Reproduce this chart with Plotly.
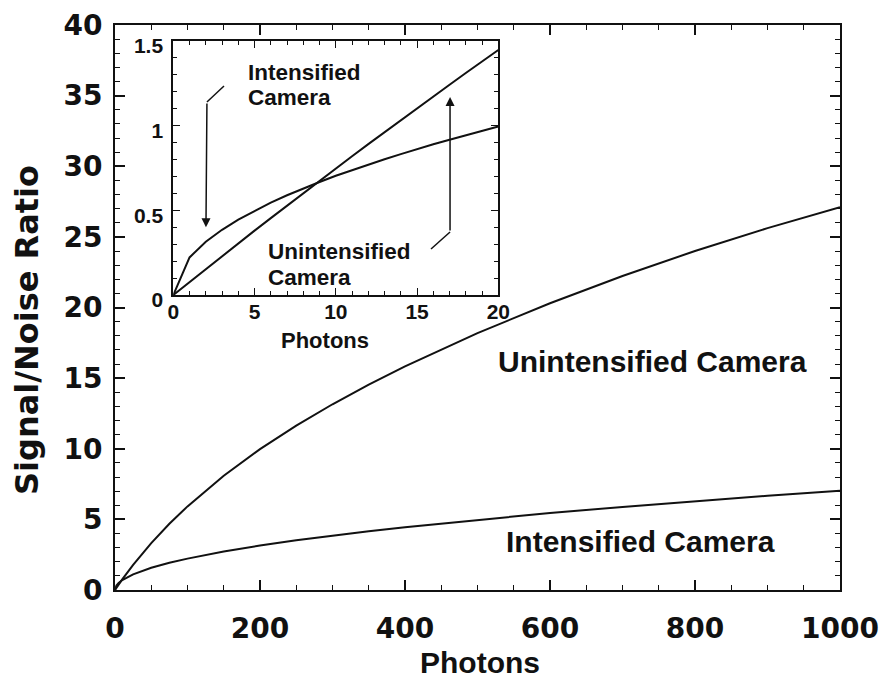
import plotly.graph_objects as go

# ---- data ----
main_photons = [0, 2, 5, 10, 25, 50, 75, 100, 150, 200, 250, 300, 350, 400, 500, 600, 700, 800, 900, 1000]
main_unintensified = [0, 0.154, 0.380, 0.747, 1.78, 3.32, 4.69, 5.92, 8.09, 9.97, 11.64, 13.15, 14.54, 15.83,
                      18.19, 20.30, 22.23, 24.00, 25.62, 27.10]
main_intensified = [0, 0.315, 0.497, 0.704, 1.11, 1.57, 1.93, 2.22, 2.72, 3.15, 3.52, 3.85, 4.16, 4.45,
                    4.97, 5.45, 5.88, 6.29, 6.67, 7.03]

inset_photons = list(range(0, 21))
inset_unintensified = [0, 0.077, 0.154, 0.229, 0.305, 0.380, 0.454, 0.528, 0.602, 0.675, 0.747,
                       0.819, 0.891, 0.962, 1.032, 1.103, 1.172, 1.242, 1.311, 1.379, 1.447]
inset_intensified = [0, 0.222, 0.315, 0.385, 0.445, 0.497, 0.545, 0.589, 0.629, 0.667, 0.704,
                     0.738, 0.771, 0.802, 0.832, 0.862, 0.890, 0.917, 0.944, 0.970, 0.995]

main_xticks = [0, 200, 400, 600, 800, 1000]
main_yticks = [0, 5, 10, 15, 20, 25, 30, 35, 40]
inset_xticks = [0, 5, 10, 15, 20]
inset_yticks = [0, 0.5, 1, 1.5]
inset_yticklabels = ["0", "0.5", "1", "1.5"]

# arrow paths in inset data coordinates (start, bend, tip)
arrow_intensified = [(3.12, 1.234), (2.07, 1.14), (2.01, 0.40)]
arrow_unintensified = [(15.86, 0.272), (17.03, 0.372), (17.03, 1.17)]

# ---- layout geometry (pixels) ----
W, H = 880, 681
L, R, T, B = 115, 840, 25, 590


def px(xp, yp):
    return (xp - L) / (R - L), (B - yp) / (B - T)


INK = "#111111"
TXT = dict(family="Liberation Sans, Arial, sans-serif", color=INK, weight=700)

fig = go.Figure()
for ys in (main_unintensified, main_intensified):
    fig.add_trace(go.Scatter(x=main_photons, y=ys, mode="lines",
                             line=dict(color=INK, width=2), showlegend=False,
                             xaxis="x", yaxis="y"))
for ys in (inset_unintensified, inset_intensified):
    fig.add_trace(go.Scatter(x=inset_photons, y=ys, mode="lines",
                             line=dict(color=INK, width=2), showlegend=False,
                             xaxis="x2", yaxis="y2"))

ix0, iy0 = px(173.3, 295)
ix1, iy1 = px(498.3, 41)

axis_common = dict(showgrid=False, zeroline=False, showline=True, linecolor=INK,
                   linewidth=2, mirror="ticks", ticks="inside", tickcolor=INK,
                   automargin=False)

fig.update_layout(
    width=W, height=H,
    margin=dict(l=L, r=W - R, t=T, b=H - B, autoexpand=False),
    paper_bgcolor="white", plot_bgcolor="white",
    xaxis=dict(**axis_common, range=[0, 1000], tickvals=main_xticks, ticklen=10, tickwidth=1.5,
               minor=dict(dtick=50, ticklen=5, ticks="inside", tickcolor=INK, tickwidth=1.2),
               tickfont=dict(family="DejaVu Sans", size=28, color=INK, weight=700),
               ticklabelstandoff=12, domain=[0, 1]),
    yaxis=dict(**axis_common, range=[0, 40], tickvals=main_yticks, ticklen=10, tickwidth=1.5,
               minor=dict(dtick=1, ticklen=5, ticks="inside", tickcolor=INK, tickwidth=1.2),
               tickfont=dict(family="DejaVu Sans", size=28, color=INK, weight=700),
               ticklabelstandoff=5, domain=[0, 1]),
    xaxis2=dict(**axis_common, range=[0, 20], tickvals=inset_xticks, ticklen=7, tickwidth=1.2,
                minor=dict(dtick=1, ticklen=4, ticks="inside", tickcolor=INK, tickwidth=1),
                tickfont=dict(family="Liberation Sans, Arial", size=21, color=INK, weight=700),
                ticklabelstandoff=-3, domain=[ix0, ix1], anchor="y2"),
    yaxis2=dict(**axis_common, range=[0, 1.5], tickvals=inset_yticks, ticktext=inset_yticklabels,
                ticklen=7, tickwidth=1.2,
                minor=dict(dtick=0.1, ticklen=4, ticks="inside", tickcolor=INK, tickwidth=1),
                tickfont=dict(family="Liberation Sans, Arial", size=21, color=INK, weight=700),
                ticklabelstandoff=4, ticklabelshift=5, domain=[iy0, iy1], anchor="x2"),
)

ann = []


def text_at(s, xp, yp, size, xanchor="center", yanchor="middle", angle=0, family=None):
    xx, yy = px(xp, yp)
    f = dict(TXT, size=size)
    if family:
        f["family"] = family
    ann.append(dict(text=s, x=xx, y=yy, xref="paper", yref="paper", showarrow=False,
                    xanchor=xanchor, yanchor=yanchor, font=f, textangle=angle))


# axis titles
text_at("Photons", 480, 681, 30, yanchor="bottom")
text_at("Signal/Noise Ratio", 27, 330, 32, angle=-90, family="DejaVu Sans")
text_at("Photons", 325, 340, 22)
# main curve labels
text_at("Unintensified Camera", 652, 361, 30)
text_at("Intensified Camera", 640, 541, 30)
# inset labels (two lines each)
text_at("Intensified", 246, 72.5, 22.5, xanchor="left")
text_at("Camera", 246, 98, 22.5, xanchor="left")
text_at("Unintensified", 266, 251.5, 22.5, xanchor="left")
text_at("Camera", 266, 277, 22.5, xanchor="left")

# arrows: first segment as a line shape, second as an arrow annotation
shapes = []
for path in (arrow_intensified, arrow_unintensified):
    (x0, y0), (x1, y1), (x2, y2) = path
    shapes.append(dict(type="line", xref="x2", yref="y2", x0=x0, y0=y0, x1=x1, y1=y1,
                       line=dict(color=INK, width=1.5)))
    ann.append(dict(x=x2, y=y2, ax=x1, ay=y1, xref="x2", yref="y2", axref="x2", ayref="y2",
                    text="", showarrow=True, arrowhead=2, arrowsize=1.2, arrowwidth=1.5,
                    arrowcolor=INK))

fig.update_layout(annotations=ann, shapes=shapes)
fig.write_html("out.html", config={"displayModeBar": False},
               post_script="document.body.style.margin='0';document.body.style.padding='0';")
